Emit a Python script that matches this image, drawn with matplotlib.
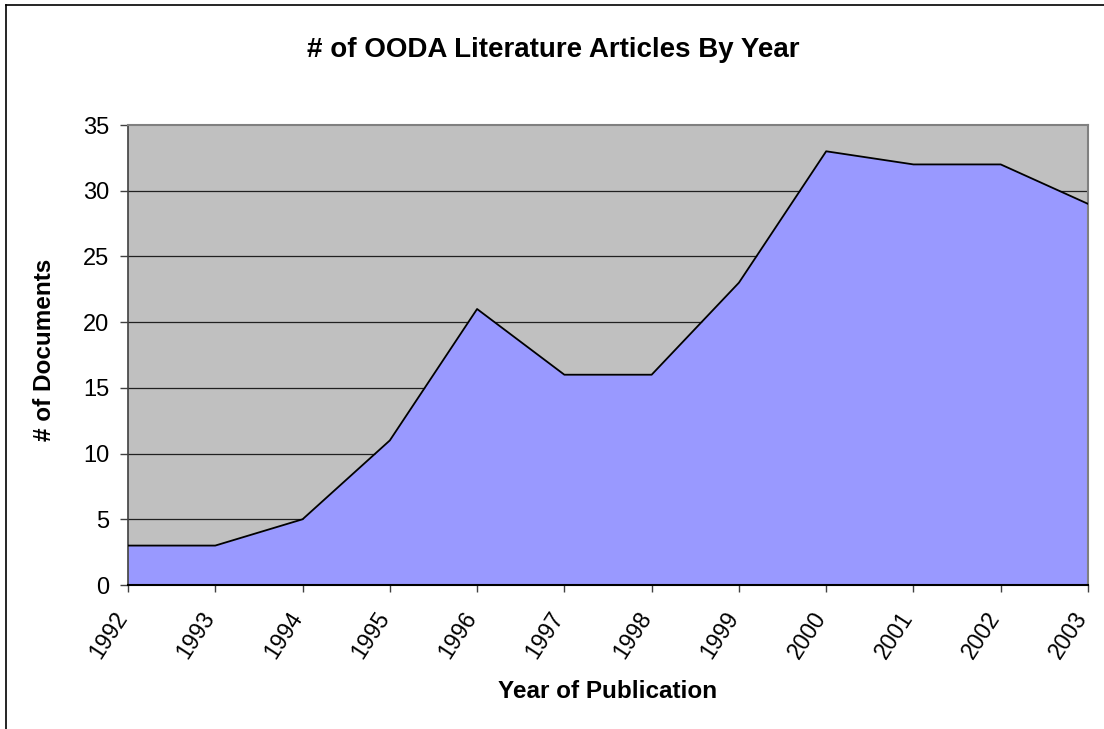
import matplotlib
matplotlib.use("Agg")
import matplotlib.pyplot as plt
from matplotlib.lines import Line2D

years = ["1992", "1993", "1994", "1995", "1996", "1997", "1998", "1999", "2000", "2001", "2002", "2003"]
documents = [3, 3, 5, 11, 21, 16, 16, 23, 33, 32, 32, 29]
y_ticks = [0, 5, 10, 15, 20, 25, 30, 35]

plt.rcParams['font.family'] = ['Liberation Sans', 'DejaVu Sans']

W, H = 1104, 729
fig = plt.figure(figsize=(W / 100, H / 100), dpi=100)
ax = fig.add_axes([128 / W, 1 - 585 / H, (1088 - 128) / W, (585 - 125) / H])

x = list(range(len(years)))
ax.set_facecolor('#C0C0C0')
ax.fill_between(x, documents, 0, color='#9999FF', zorder=2, linewidth=0)
ax.plot(x, documents, color='black', linewidth=1.3, zorder=3)

ax.set_xlim(0, len(years) - 1)
ax.set_ylim(0, 35)
ax.set_yticks(y_ticks)
ax.set_yticklabels([str(v) for v in y_ticks], fontsize=17)
ax.set_xticks(x)
ax.set_xticklabels(years, fontsize=16.5, rotation=57, ha='right', va='baseline',
                   rotation_mode='anchor')
for v in y_ticks[1:-1]:
    ax.axhline(v, color='#202020', linewidth=0.9, zorder=1)

for side in ['top', 'right']:
    ax.spines[side].set_color('#808080')
    ax.spines[side].set_linewidth(1.5)
ax.spines['left'].set_color('#404040')
ax.spines['bottom'].set_color('black')
ax.spines['left'].set_linewidth(1.2)
ax.spines['bottom'].set_linewidth(1.5)
ax.tick_params(axis='y', direction='out', length=6, width=1, color='#404040', pad=7.5)
ax.tick_params(axis='x', direction='out', length=5, width=1, color='#404040', pad=18.5)

fig.text(45 / W, 1 - 350 / H, '# of Documents', fontsize=17.5, fontweight='bold',
         rotation=90, ha='center', va='center')
fig.text(608 / W, 1 - 698 / H, 'Year of Publication', fontsize=17.5, fontweight='bold',
         ha='center', va='baseline')
fig.text(553 / W, 1 - 57 / H, '# of OODA Literature Articles By Year', fontsize=20,
         fontweight='bold', ha='center', va='baseline')

fig.add_artist(Line2D([6 / W, 6 / W], [0, 1 - 5 / H], transform=fig.transFigure, color='black', linewidth=1.2))
fig.add_artist(Line2D([6 / W, 1], [1 - 5 / H, 1 - 5 / H], transform=fig.transFigure, color='black', linewidth=1.2))

fig.savefig('out.png', dpi=100)
